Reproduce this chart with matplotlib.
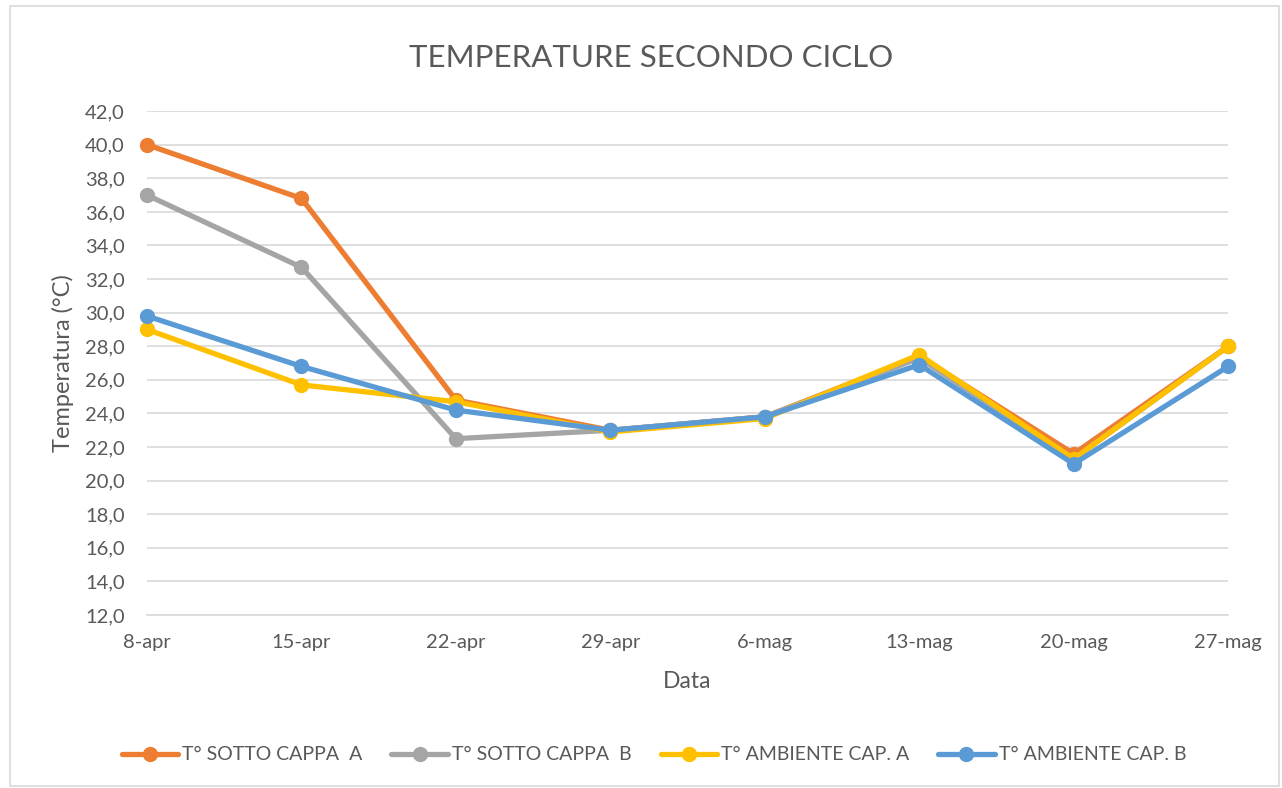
import matplotlib
matplotlib.use("Agg")
import matplotlib.pyplot as plt
import numpy as np

plt.rcParams['font.family'] = ['Lato', 'DejaVu Sans']

date_labels = ['8-apr', '15-apr', '22-apr', '29-apr', '6-mag', '13-mag', '20-mag', '27-mag']
sotto_a = [40.0, 36.8, 24.8, 23.0, 23.8, 27.4, 21.6, 28.0]
sotto_b = [37.0, 32.7, 22.5, 23.0, 23.8, 27.3, 21.3, 28.0]
ambiente_a = [29.0, 25.7, 24.7, 22.9, 23.7, 27.5, 21.3, 28.0]
ambiente_b = [29.8, 26.8, 24.2, 23.0, 23.8, 26.9, 21.0, 26.8]

series = [
    ('T° SOTTO CAPPA  A', sotto_a, '#ED7D31'),
    ('T° SOTTO CAPPA  B', sotto_b, '#A5A5A5'),
    ('T° AMBIENTE CAP. A', ambiente_a, '#FFC000'),
    ('T° AMBIENTE CAP. B', ambiente_b, '#5B9BD5'),
]

txt = '#595959'
fig = plt.figure(figsize=(12.82, 7.88), dpi=100)
ax = fig.add_axes([0.1147, 0.2195, 0.958 - 0.1147, 0.859 - 0.2195])

x = np.arange(len(date_labels))
for name, vals, col in series:
    ax.plot(x, vals, color=col, lw=3.8, marker='o', ms=10, label=name,
            solid_capstyle='round', zorder=3, clip_on=False)

ax.set_xlim(0, len(date_labels) - 1)
ax.set_ylim(12, 42)
yt = np.arange(12, 42.1, 2)
ax.set_yticks(yt)
ax.set_yticklabels([f'{v:.1f}'.replace('.', ',') for v in yt])
ax.set_xticks(x)
ax.set_xticklabels(date_labels)
ax.grid(axis='y', color='#D9D9D9', lw=1.2, zorder=0)
for s in ['top', 'right', 'left']:
    ax.spines[s].set_visible(False)
ax.spines['bottom'].set_color('#D9D9D9')
ax.spines['bottom'].set_linewidth(1.2)
ax.tick_params(axis='y', length=0, labelsize=14.5, colors=txt, pad=16)
ax.tick_params(axis='x', length=0, labelsize=14.5, colors=txt, pad=14)

fig.text(0.508, 0.927, 'TEMPERATURE SECONDO CICLO', fontsize=22.5, color=txt,
         ha='center', va='center')
ax.set_xlabel('Data', fontsize=16.5, color=txt, labelpad=14)
ax.set_ylabel('Temperatura (°C)', fontsize=17, color=txt, labelpad=8)

leg = fig.legend(loc='center', bbox_to_anchor=(0.51, 0.042), ncol=4, frameon=False,
                 fontsize=14, handlelength=2.9, columnspacing=1.5, handletextpad=0.2)
for t in leg.get_texts():
    t.set_color(txt)

fig.patches.append(plt.Rectangle((0.008, 0.003), 0.99, 0.99, transform=fig.transFigure,
                                 fill=False, ec='#D9D9D9', lw=1.2))

fig.savefig('out.png', dpi=100)
